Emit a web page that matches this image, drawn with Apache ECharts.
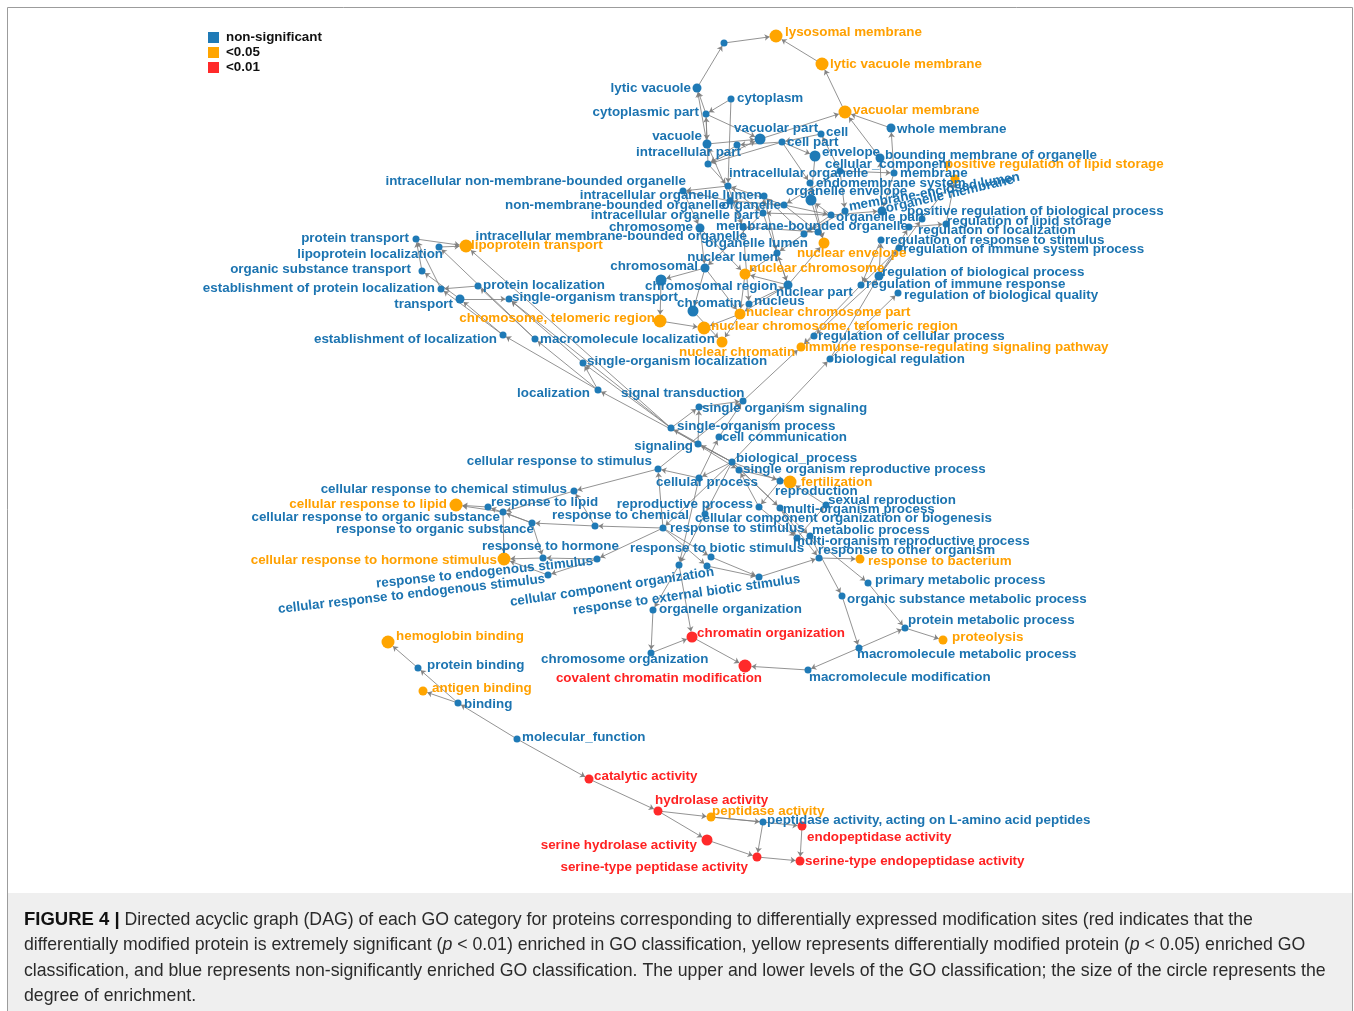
<!DOCTYPE html>
<html>
<head>
<meta charset="utf-8">
<script src="https://cdn.jsdelivr.net/npm/echarts@6/dist/echarts.min.js"></script>
<style>
  html, body { margin: 0; padding: 0; background: #ffffff; }
  #chart { width: 1354px; height: 1011px; }
</style>
</head>
<body>
<div id="chart"></div>
<script>
// Enrichment significance classes (legend order)
const significanceLevels = ['non-significant', '<0.05', '<0.01'];

// GO terms: [term, significance class, enrichment level 0..3]
const terms = [
  ['lysosome', 0, 0],
  ['lysosomal membrane', 1, 3],
  ['lytic vacuole membrane', 1, 3],
  ['lytic vacuole', 0, 1],
  ['cytoplasm', 0, 0],
  ['cytoplasmic part', 0, 0],
  ['vacuolar membrane', 1, 3],
  ['whole membrane', 0, 1],
  ['vacuole', 0, 1],
  ['vacuolar part', 0, 2],
  ['cell', 0, 0],
  ['cell part', 0, 0],
  ['intracellular', 0, 0],
  ['intracellular part', 0, 0],
  ['envelope', 0, 2],
  ['bounding membrane of organelle', 0, 1],
  ['cellular_component', 0, 0],
  ['membrane', 0, 0],
  ['positive regulation of lipid storage', 1, 1],
  ['intracellular organelle', 0, 0],
  ['endomembrane system', 0, 0],
  ['organelle envelope', 0, 2],
  ['membrane-enclosed lumen', 0, 0],
  ['organelle membrane', 0, 1],
  ['organelle part', 0, 0],
  ['positive regulation of biological process', 0, 0],
  ['regulation of lipid storage', 0, 0],
  ['regulation of localization', 0, 0],
  ['regulation of response to stimulus', 0, 0],
  ['regulation of immune system process', 0, 0],
  ['nuclear envelope', 1, 2],
  ['intracellular non-membrane-bounded organelle', 0, 0],
  ['intracellular organelle lumen', 0, 0],
  ['non-membrane-bounded organelle', 0, 0],
  ['organelle', 0, 0],
  ['intracellular organelle part', 0, 0],
  ['intracellular membrane-bounded organelle', 0, 0],
  ['organelle lumen', 0, 0],
  ['membrane-bounded organelle', 0, 0],
  ['nuclear lumen', 0, 0],
  ['chromosome', 0, 1],
  ['chromosomal', 0, 1],
  ['nuclear chromosome', 1, 2],
  ['chromosomal region', 0, 2],
  ['nuclear part', 0, 1],
  ['nucleus', 0, 0],
  ['chromatin', 0, 2],
  ['nuclear chromosome part', 1, 2],
  ['chromosome, telomeric region', 1, 3],
  ['nuclear chromosome, telomeric region', 1, 3],
  ['nuclear chromatin', 1, 2],
  ['regulation of biological process', 0, 1],
  ['regulation of immune response', 0, 0],
  ['regulation of biological quality', 0, 0],
  ['regulation of cellular process', 0, 0],
  ['immune response-regulating signaling pathway', 1, 1],
  ['biological regulation', 0, 0],
  ['protein transport', 0, 0],
  ['lipoprotein localization', 0, 0],
  ['lipoprotein transport', 1, 3],
  ['organic substance transport', 0, 0],
  ['establishment of protein localization', 0, 0],
  ['protein localization', 0, 0],
  ['transport', 0, 1],
  ['single-organism transport', 0, 0],
  ['establishment of localization', 0, 0],
  ['macromolecule localization', 0, 0],
  ['single-organism localization', 0, 0],
  ['localization', 0, 0],
  ['signal transduction', 0, 0],
  ['single organism signaling', 0, 0],
  ['single-organism process', 0, 0],
  ['cell communication', 0, 0],
  ['signaling', 0, 0],
  ['biological_process', 0, 0],
  ['single organism reproductive process', 0, 0],
  ['cellular response to stimulus', 0, 0],
  ['cellular process', 0, 0],
  ['fertilization', 1, 3],
  ['reproduction', 0, 0],
  ['sexual reproduction', 0, 0],
  ['reproductive process', 0, 0],
  ['multi-organism process', 0, 0],
  ['cellular component organization or biogenesis', 0, 0],
  ['response to chemical', 0, 0],
  ['response to stimulus', 0, 0],
  ['metabolic process', 0, 0],
  ['multi-organism reproductive process', 0, 0],
  ['response to biotic stimulus', 0, 0],
  ['response to other organism', 0, 0],
  ['response to bacterium', 1, 1],
  ['primary metabolic process', 0, 0],
  ['organic substance metabolic process', 0, 0],
  ['cellular response to chemical stimulus', 0, 0],
  ['cellular response to lipid', 1, 3],
  ['response to lipid', 0, 0],
  ['cellular response to organic substance', 0, 0],
  ['response to organic substance', 0, 0],
  ['response to hormone', 0, 0],
  ['cellular response to hormone stimulus', 1, 3],
  ['response to endogenous stimulus', 0, 0],
  ['cellular response to endogenous stimulus', 0, 0],
  ['cellular component organization', 0, 0],
  ['response to external stimulus', 0, 0],
  ['response to external biotic stimulus', 0, 0],
  ['organelle organization', 0, 0],
  ['chromatin organization', 2, 2],
  ['chromosome organization', 0, 0],
  ['covalent chromatin modification', 2, 3],
  ['macromolecule modification', 0, 0],
  ['macromolecule metabolic process', 0, 0],
  ['protein metabolic process', 0, 0],
  ['proteolysis', 1, 1],
  ['hemoglobin binding', 1, 3],
  ['protein binding', 0, 0],
  ['antigen binding', 1, 1],
  ['binding', 0, 0],
  ['molecular_function', 0, 0],
  ['catalytic activity', 2, 1],
  ['hydrolase activity', 2, 1],
  ['peptidase activity', 1, 1],
  ['peptidase activity, acting on L-amino acid peptides', 0, 0],
  ['endopeptidase activity', 2, 1],
  ['serine hydrolase activity', 2, 2],
  ['serine-type peptidase activity', 2, 1],
  ['serine-type endopeptidase activity', 2, 1]
];

// Parent -> child relations of the DAG
const relations = [
  ['lytic vacuole', 'lysosome'],
  ['lysosome', 'lysosomal membrane'],
  ['lytic vacuole membrane', 'lysosomal membrane'],
  ['vacuolar membrane', 'lytic vacuole membrane'],
  ['whole membrane', 'vacuolar membrane'],
  ['vacuolar part', 'vacuolar membrane'],
  ['bounding membrane of organelle', 'vacuolar membrane'],
  ['membrane', 'whole membrane'],
  ['organelle membrane', 'bounding membrane of organelle'],
  ['vacuole', 'lytic vacuole'],
  ['cytoplasmic part', 'lytic vacuole'],
  ['cytoplasm', 'cytoplasmic part'],
  ['cytoplasm', 'intracellular organelle'],
  ['cytoplasmic part', 'vacuole'],
  ['cytoplasmic part', 'vacuolar part'],
  ['cell', 'cell part'],
  ['cell part', 'intracellular'],
  ['intracellular', 'intracellular part'],
  ['cell part', 'intracellular part'],
  ['intracellular part', 'cytoplasmic part'],
  ['vacuole', 'vacuolar part'],
  ['intracellular part', 'vacuolar part'],
  ['cell part', 'envelope'],
  ['envelope', 'organelle envelope'],
  ['cellular_component', 'cell'],
  ['cellular_component', 'membrane'],
  ['cellular_component', 'organelle'],
  ['cell part', 'endomembrane system'],
  ['endomembrane system', 'nuclear envelope'],
  ['organelle envelope', 'nuclear envelope'],
  ['organelle part', 'organelle envelope'],
  ['membrane', 'organelle membrane'],
  ['organelle part', 'organelle membrane'],
  ['cellular_component', 'membrane-enclosed lumen'],
  ['membrane-enclosed lumen', 'organelle lumen'],
  ['organelle part', 'organelle lumen'],
  ['organelle lumen', 'intracellular organelle lumen'],
  ['intracellular organelle part', 'intracellular organelle lumen'],
  ['organelle lumen', 'nuclear lumen'],
  ['intracellular organelle lumen', 'nuclear lumen'],
  ['organelle', 'organelle part'],
  ['organelle', 'intracellular organelle'],
  ['organelle', 'non-membrane-bounded organelle'],
  ['organelle', 'membrane-bounded organelle'],
  ['intracellular part', 'intracellular organelle'],
  ['intracellular organelle', 'intracellular non-membrane-bounded organelle'],
  ['non-membrane-bounded organelle', 'intracellular non-membrane-bounded organelle'],
  ['intracellular organelle', 'intracellular membrane-bounded organelle'],
  ['membrane-bounded organelle', 'intracellular membrane-bounded organelle'],
  ['organelle part', 'intracellular organelle part'],
  ['intracellular organelle', 'intracellular organelle part'],
  ['intracellular non-membrane-bounded organelle', 'chromosome'],
  ['intracellular membrane-bounded organelle', 'nucleus'],
  ['intracellular membrane-bounded organelle', 'vacuole'],
  ['intracellular organelle part', 'chromosomal'],
  ['chromosome', 'chromosomal'],
  ['chromosomal', 'chromosomal region'],
  ['chromosomal', 'chromatin'],
  ['chromosomal', 'nuclear chromosome part'],
  ['chromosome', 'nuclear chromosome'],
  ['chromosomal region', 'chromosome, telomeric region'],
  ['chromosome, telomeric region', 'nuclear chromosome, telomeric region'],
  ['nuclear chromosome part', 'nuclear chromosome, telomeric region'],
  ['chromatin', 'nuclear chromatin'],
  ['nuclear chromosome part', 'nuclear chromatin'],
  ['nuclear chromosome', 'nuclear chromosome part'],
  ['nuclear part', 'nuclear chromosome part'],
  ['nuclear part', 'nuclear chromosome'],
  ['nuclear lumen', 'nuclear chromosome'],
  ['nucleus', 'nuclear part'],
  ['nuclear part', 'nuclear lumen'],
  ['nuclear part', 'nuclear envelope'],
  ['intracellular organelle part', 'nuclear part'],

  ['biological regulation', 'regulation of biological process'],
  ['biological regulation', 'regulation of biological quality'],
  ['regulation of biological process', 'regulation of cellular process'],
  ['regulation of biological process', 'regulation of response to stimulus'],
  ['regulation of biological process', 'regulation of immune system process'],
  ['regulation of biological process', 'regulation of localization'],
  ['regulation of biological process', 'positive regulation of biological process'],
  ['regulation of localization', 'regulation of lipid storage'],
  ['regulation of lipid storage', 'positive regulation of lipid storage'],
  ['positive regulation of biological process', 'positive regulation of lipid storage'],
  ['regulation of response to stimulus', 'regulation of immune response'],
  ['regulation of immune system process', 'regulation of immune response'],
  ['regulation of immune response', 'immune response-regulating signaling pathway'],
  ['regulation of cellular process', 'immune response-regulating signaling pathway'],
  ['signal transduction', 'immune response-regulating signaling pathway'],
  ['biological_process', 'biological regulation'],

  ['protein transport', 'lipoprotein transport'],
  ['lipoprotein localization', 'lipoprotein transport'],
  ['establishment of protein localization', 'protein transport'],
  ['organic substance transport', 'protein transport'],
  ['protein localization', 'establishment of protein localization'],
  ['macromolecule localization', 'lipoprotein localization'],
  ['transport', 'organic substance transport'],
  ['transport', 'single-organism transport'],
  ['establishment of localization', 'transport'],
  ['establishment of localization', 'establishment of protein localization'],
  ['macromolecule localization', 'protein localization'],
  ['localization', 'establishment of localization'],
  ['localization', 'macromolecule localization'],
  ['localization', 'single-organism localization'],
  ['single-organism localization', 'single-organism transport'],
  ['single-organism process', 'single-organism localization'],
  ['single-organism process', 'lipoprotein transport'],

  ['single organism signaling', 'signal transduction'],
  ['cell communication', 'signal transduction'],
  ['cellular response to stimulus', 'signal transduction'],
  ['signaling', 'single organism signaling'],
  ['single-organism process', 'single organism signaling'],
  ['cellular process', 'cell communication'],
  ['biological_process', 'signaling'],
  ['biological_process', 'single-organism process'],
  ['biological_process', 'cellular process'],
  ['biological_process', 'localization'],
  ['biological_process', 'response to stimulus'],
  ['biological_process', 'reproduction'],
  ['biological_process', 'multi-organism process'],
  ['biological_process', 'metabolic process'],
  ['biological_process', 'cellular component organization or biogenesis'],
  ['single-organism process', 'single organism reproductive process'],
  ['cellular process', 'cellular response to stimulus'],
  ['response to stimulus', 'cellular response to stimulus'],
  ['single-organism process', 'single-organism transport'],
  ['cellular process', 'cellular component organization'],
  ['cellular component organization or biogenesis', 'cellular component organization'],
  ['cellular component organization', 'organelle organization'],
  ['organelle organization', 'chromosome organization'],
  ['chromosome organization', 'chromatin organization'],
  ['cellular component organization', 'chromatin organization'],
  ['chromatin organization', 'covalent chromatin modification'],
  ['macromolecule modification', 'covalent chromatin modification'],
  ['macromolecule metabolic process', 'macromolecule modification'],
  ['macromolecule metabolic process', 'protein metabolic process'],
  ['primary metabolic process', 'protein metabolic process'],
  ['organic substance metabolic process', 'macromolecule metabolic process'],
  ['protein metabolic process', 'proteolysis'],
  ['metabolic process', 'primary metabolic process'],
  ['metabolic process', 'organic substance metabolic process'],

  ['reproduction', 'reproductive process'],
  ['sexual reproduction', 'fertilization'],
  ['single organism reproductive process', 'fertilization'],
  ['reproductive process', 'single organism reproductive process'],
  ['reproductive process', 'multi-organism reproductive process'],
  ['multi-organism process', 'multi-organism reproductive process'],
  ['multi-organism reproductive process', 'sexual reproduction'],
  ['multi-organism process', 'response to other organism'],
  ['response to stimulus', 'response to chemical'],
  ['response to stimulus', 'response to endogenous stimulus'],
  ['response to stimulus', 'response to biotic stimulus'],
  ['response to stimulus', 'response to external stimulus'],
  ['response to biotic stimulus', 'response to external biotic stimulus'],
  ['response to external stimulus', 'response to external biotic stimulus'],
  ['response to external biotic stimulus', 'response to other organism'],
  ['response to other organism', 'response to bacterium'],
  ['response to chemical', 'cellular response to chemical stimulus'],
  ['cellular response to stimulus', 'cellular response to chemical stimulus'],
  ['response to chemical', 'response to organic substance'],
  ['cellular response to chemical stimulus', 'cellular response to organic substance'],
  ['response to organic substance', 'cellular response to organic substance'],
  ['response to organic substance', 'response to lipid'],
  ['response to organic substance', 'response to hormone'],
  ['response to lipid', 'cellular response to lipid'],
  ['cellular response to organic substance', 'cellular response to lipid'],
  ['cellular response to organic substance', 'cellular response to hormone stimulus'],
  ['response to hormone', 'cellular response to hormone stimulus'],
  ['response to endogenous stimulus', 'response to hormone'],
  ['response to endogenous stimulus', 'cellular response to endogenous stimulus'],
  ['cellular response to endogenous stimulus', 'cellular response to hormone stimulus'],

  ['molecular_function', 'binding'],
  ['binding', 'protein binding'],
  ['protein binding', 'hemoglobin binding'],
  ['binding', 'antigen binding'],
  ['molecular_function', 'catalytic activity'],
  ['catalytic activity', 'hydrolase activity'],
  ['hydrolase activity', 'peptidase activity'],
  ['hydrolase activity', 'serine hydrolase activity'],
  ['peptidase activity', 'peptidase activity, acting on L-amino acid peptides'],
  ['peptidase activity', 'endopeptidase activity'],
  ['peptidase activity, acting on L-amino acid peptides', 'serine-type peptidase activity'],
  ['serine hydrolase activity', 'serine-type peptidase activity'],
  ['serine-type peptidase activity', 'serine-type endopeptidase activity'],
  ['endopeptidase activity', 'serine-type endopeptidase activity']
];

// Fixed DAG layout in canvas units: term -> [x, y, labelX, labelY, labelSide, labelAngle]
// labelSide 'l': label starts at (labelX, labelY); 'r': label ends there.
const layout = {
  'lysosome': [724, 43],
  'lysosomal membrane': [776, 36, 785, 32, 'l'],
  'lytic vacuole membrane': [822, 64, 830, 64, 'l'],
  'lytic vacuole': [697, 88, 691, 88, 'r'],
  'cytoplasm': [731, 99, 737, 98, 'l'],
  'cytoplasmic part': [706, 114, 699, 112, 'r'],
  'vacuolar membrane': [845, 112, 853, 110, 'l'],
  'whole membrane': [891, 128, 897, 129, 'l'],
  'vacuole': [707, 144, 702, 136, 'r'],
  'vacuolar part': [760, 139, 734, 128, 'l'],
  'cell': [821, 134, 826, 132, 'l'],
  'cell part': [782, 142, 787, 142, 'l'],
  'intracellular': [737, 145],
  'intracellular part': [708, 164, 636, 152, 'l'],
  'envelope': [815, 156, 822, 152, 'l'],
  'bounding membrane of organelle': [880, 158, 885, 155, 'l'],
  'cellular_component': [840, 171, 825, 164, 'l'],
  'membrane': [894, 173, 900, 173, 'l'],
  'positive regulation of lipid storage': [955, 179, 945, 164, 'l'],
  'intracellular organelle': [728, 186, 729, 173, 'l'],
  'endomembrane system': [810, 183, 816, 183, 'l'],
  'organelle envelope': [811, 200, 786, 191, 'l'],
  'membrane-enclosed lumen': [845, 211, 849, 207, 'l', 10],
  'organelle membrane': [882, 211, 886, 209, 'l', 13],
  'organelle part': [831, 215, 836, 217, 'l'],
  'positive regulation of biological process': [922, 219, 907, 211, 'l'],
  'regulation of lipid storage': [946, 224, 947, 221, 'l'],
  'regulation of localization': [909, 227, 918, 230, 'l'],
  'regulation of response to stimulus': [881, 240, 885, 240, 'l'],
  'regulation of immune system process': [899, 248, 903, 249, 'l'],
  'nuclear envelope': [824, 243, 797, 253, 'l'],
  'intracellular non-membrane-bounded organelle': [683, 191, 686, 181, 'r'],
  'intracellular organelle lumen': [764, 196, 762, 195, 'r'],
  'non-membrane-bounded organelle': [730, 201, 726, 205, 'r'],
  'organelle': [784, 205, 781, 205, 'r'],
  'intracellular organelle part': [763, 213, 759, 215, 'r'],
  'intracellular membrane-bounded organelle': [743, 227, 747, 236, 'r'],
  'organelle lumen': [804, 234, 808, 243, 'r'],
  'membrane-bounded organelle': [818, 232, 716, 226, 'l'],
  'nuclear lumen': [777, 253, 778, 257, 'r'],
  'chromosome': [700, 228, 693, 227, 'r'],
  'chromosomal': [705, 268, 698, 266, 'r'],
  'nuclear chromosome': [745, 274, 749, 268, 'l'],
  'chromosomal region': [661, 280, 645, 286, 'l'],
  'nuclear part': [788, 285, 776, 292, 'l'],
  'nucleus': [749, 304, 754, 301, 'l'],
  'chromatin': [693, 311, 677, 303, 'l'],
  'nuclear chromosome part': [740, 314, 746, 312, 'l'],
  'chromosome, telomeric region': [660, 321, 655, 318, 'r'],
  'nuclear chromosome, telomeric region': [704, 328, 711, 326, 'l'],
  'nuclear chromatin': [722, 342, 679, 352, 'l'],
  'regulation of biological process': [879, 276, 882, 272, 'l'],
  'regulation of immune response': [861, 285, 866, 284, 'l'],
  'regulation of biological quality': [898, 293, 904, 295, 'l'],
  'regulation of cellular process': [814, 336, 818, 336, 'l'],
  'immune response-regulating signaling pathway': [801, 347, 805, 347, 'l'],
  'biological regulation': [830, 359, 834, 359, 'l'],
  'protein transport': [416, 239, 409, 238, 'r'],
  'lipoprotein localization': [439, 247, 443, 254, 'r'],
  'lipoprotein transport': [466, 246, 471, 245, 'l'],
  'organic substance transport': [422, 271, 411, 269, 'r'],
  'establishment of protein localization': [441, 289, 435, 288, 'r'],
  'protein localization': [478, 286, 483, 285, 'l'],
  'transport': [460, 299, 453, 304, 'r'],
  'single-organism transport': [509, 299, 512, 297, 'l'],
  'establishment of localization': [503, 335, 497, 339, 'r'],
  'macromolecule localization': [535, 339, 540, 339, 'l'],
  'single-organism localization': [583, 363, 587, 361, 'l'],
  'localization': [598, 390, 590, 393, 'r'],
  'signal transduction': [743, 401, 621, 393, 'l'],
  'single organism signaling': [699, 407, 702, 408, 'l'],
  'single-organism process': [671, 428, 677, 426, 'l'],
  'cell communication': [719, 437, 722, 437, 'l'],
  'signaling': [698, 444, 693, 446, 'r'],
  'biological_process': [732, 462, 736, 458, 'l'],
  'single organism reproductive process': [739, 470, 743, 469, 'l'],
  'cellular response to stimulus': [658, 469, 652, 461, 'r'],
  'cellular process': [699, 478, 656, 482, 'l'],
  'fertilization': [790, 482, 801, 482, 'l'],
  'reproduction': [780, 481, 775, 491, 'l'],
  'sexual reproduction': [826, 505, 828, 500, 'l'],
  'reproductive process': [759, 507, 753, 504, 'r'],
  'multi-organism process': [780, 508, 783, 509, 'l'],
  'cellular component organization or biogenesis': [705, 514, 695, 518, 'l'],
  'response to chemical': [595, 526, 552, 515, 'l'],
  'response to stimulus': [663, 528, 670, 528, 'l'],
  'metabolic process': [810, 536, 812, 530, 'l'],
  'multi-organism reproductive process': [797, 538, 793, 541, 'l'],
  'response to biotic stimulus': [711, 557, 630, 548, 'l'],
  'response to other organism': [819, 558, 818, 550, 'l'],
  'response to bacterium': [860, 559, 868, 561, 'l'],
  'primary metabolic process': [868, 583, 875, 580, 'l'],
  'organic substance metabolic process': [842, 596, 847, 599, 'l'],
  'cellular response to chemical stimulus': [574, 491, 567, 489, 'r'],
  'cellular response to lipid': [456, 505, 447, 504, 'r'],
  'response to lipid': [488, 507, 491, 502, 'l'],
  'cellular response to organic substance': [503, 512, 500, 517, 'r'],
  'response to organic substance': [532, 523, 534, 529, 'r'],
  'response to hormone': [543, 558, 482, 546, 'l'],
  'cellular response to hormone stimulus': [504, 559, 497, 560, 'r'],
  'response to endogenous stimulus': [597, 559, 593, 561, 'r', 6],
  'cellular response to endogenous stimulus': [548, 575, 545, 579, 'r', 6.5],
  'cellular component organization': [679, 565, 714, 572, 'r', 8.5],
  'response to external stimulus': [707, 566],
  'response to external biotic stimulus': [759, 577, 800, 579, 'r', 8],
  'organelle organization': [653, 610, 659, 609, 'l'],
  'chromatin organization': [692, 637, 697, 633, 'l'],
  'chromosome organization': [651, 653, 541, 659, 'l'],
  'covalent chromatin modification': [745, 666, 762, 678, 'r'],
  'macromolecule modification': [808, 670, 809, 677, 'l'],
  'macromolecule metabolic process': [859, 648, 857, 654, 'l'],
  'protein metabolic process': [905, 628, 908, 620, 'l'],
  'proteolysis': [943, 640, 952, 637, 'l'],
  'hemoglobin binding': [388, 642, 396, 636, 'l'],
  'protein binding': [418, 668, 427, 665, 'l'],
  'antigen binding': [423, 691, 432, 688, 'l'],
  'binding': [458, 703, 464, 704, 'l'],
  'molecular_function': [517, 739, 522, 737, 'l'],
  'catalytic activity': [589, 779, 594, 776, 'l'],
  'hydrolase activity': [658, 811, 655, 800, 'l'],
  'peptidase activity': [711, 817, 712, 811, 'l'],
  'peptidase activity, acting on L-amino acid peptides': [763, 822, 767, 820, 'l'],
  'endopeptidase activity': [802, 826, 807, 837, 'l'],
  'serine hydrolase activity': [707, 840, 697, 845, 'r'],
  'serine-type peptidase activity': [757, 857, 748, 867, 'r'],
  'serine-type endopeptidase activity': [800, 861, 805, 861, 'l']
};

// Figure caption, one entry per line ({b|..} bold, {i|..} italic)
const captionLines = [
  '{b|FIGURE 4 |} Directed acyclic graph (DAG) of each GO category for proteins corresponding to differentially expressed modification sites (red indicates that the',
  'differentially modified protein is extremely significant ({i|p} < 0.01) enriched in GO classification, yellow represents differentially modified protein ({i|p} < 0.05) enriched GO',
  'classification, and blue represents non-significantly enriched GO classification. The upper and lower levels of the GO classification; the size of the circle represents the',
  'degree of enrichment.'
];

// ---- styling ----
const FONT = '"Liberation Sans", Arial, Helvetica, sans-serif';
const nodeColors = ['#1f7ab6', '#ffa500', '#ff2a2a'];
const textColors = ['#1c74b1', '#ffa000', '#ff2222'];
const levelSize = [7, 9, 11, 13];
const CAPTION_SIZE = 17.7;

const termSet = new Set(terms.map(t => t[0]));

const nodes = terms.map(([name, sig, lvl]) => {
  const p = layout[name];
  const node = {
    name: name,
    value: [p[0], p[1]],
    category: sig,
    symbolSize: levelSize[lvl],
    itemStyle: { color: nodeColors[sig] }
  };
  if (p.length < 4) {
    node.label = { show: false };
  } else {
    const ang = (p[5] || 0) * Math.PI / 180;
    const ax = p[2] - p[0], ay = p[3] - p[1];
    // label rotation pivots on the node centre, so express the offset in the rotated frame
    const offset = [ax * Math.cos(ang) - ay * Math.sin(ang), ax * Math.sin(ang) + ay * Math.cos(ang)];
    node.label = {
      show: true,
      position: 'inside',
      align: p[4] === 'r' ? 'right' : 'left',
      verticalAlign: 'middle',
      offset: offset,
      rotate: p[5] || 0,
      color: textColors[sig]
    };
  }
  return node;
});

const links = relations
  .filter(([s, t]) => termSet.has(s) && termSet.has(t))
  .map(([s, t]) => ({ source: s, target: t }));

const chart = echarts.init(document.getElementById('chart'), null, { renderer: 'canvas' });

chart.setOption({
  animation: false,
  backgroundColor: '#ffffff',
  textStyle: { fontFamily: FONT },
  grid: { left: 0, right: 0, top: 0, bottom: 0 },
  xAxis: { type: 'value', min: 0, max: 1354, show: false },
  yAxis: { type: 'value', min: 0, max: 1011, inverse: true, show: false },
  legend: {
    data: significanceLevels,
    orient: 'vertical',
    left: 208,
    top: 31,
    padding: 0,
    itemWidth: 11,
    itemHeight: 11,
    itemGap: 2,
    icon: 'rect',
    selectedMode: false,
    textStyle: {
      fontFamily: FONT,
      fontWeight: 'bold',
      fontSize: 13.4,
      lineHeight: 11,
      height: 11,
      color: '#111111',
      padding: [0, 0, 0, 2]
    }
  },
  graphic: [
    {
      type: 'rect',
      shape: { x: 8, y: 893, width: 1344, height: 118 },
      style: { fill: '#efefef' },
      silent: true
    },
    {
      type: 'rect',
      shape: { x: 7.5, y: 7.5, width: 1345, height: 1010 },
      style: { fill: 'none', stroke: '#9c9c9c', lineWidth: 1 },
      silent: true
    }
  ].concat(captionLines.map((line, i) => ({
    type: 'text',
    x: 24,
    y: 920 + i * 25.4,
    silent: true,
    style: {
      text: line,
      fontFamily: FONT,
      fontSize: CAPTION_SIZE,
      fill: '#2a2a2a',
      verticalAlign: 'middle',
      rich: {
        b: { fontFamily: FONT, fontSize: CAPTION_SIZE + 0.8, fontWeight: 'bold', fill: '#111111' },
        i: { fontFamily: FONT, fontSize: CAPTION_SIZE, fontStyle: 'italic', fill: '#2a2a2a' }
      }
    }
  }))),
  series: [{
    type: 'graph',
    layout: 'none',
    coordinateSystem: 'cartesian2d',
    xAxisIndex: 0,
    yAxisIndex: 0,
    roam: false,
    legendHoverLink: false,
    categories: significanceLevels.map((n, i) => ({ name: n, itemStyle: { color: nodeColors[i] } })),
    data: nodes,
    links: links,
    edgeSymbol: ['none', 'arrow'],
    edgeSymbolSize: [0, 5],
    lineStyle: { color: '#808080', width: 0.9, opacity: 0.95, curveness: 0 },
    label: {
      show: true,
      fontFamily: FONT,
      fontWeight: 'bold',
      fontSize: 13.4,
      textBorderWidth: 0
    },
    emphasis: { disabled: true }
  }]
});
</script>
</body>
</html>
